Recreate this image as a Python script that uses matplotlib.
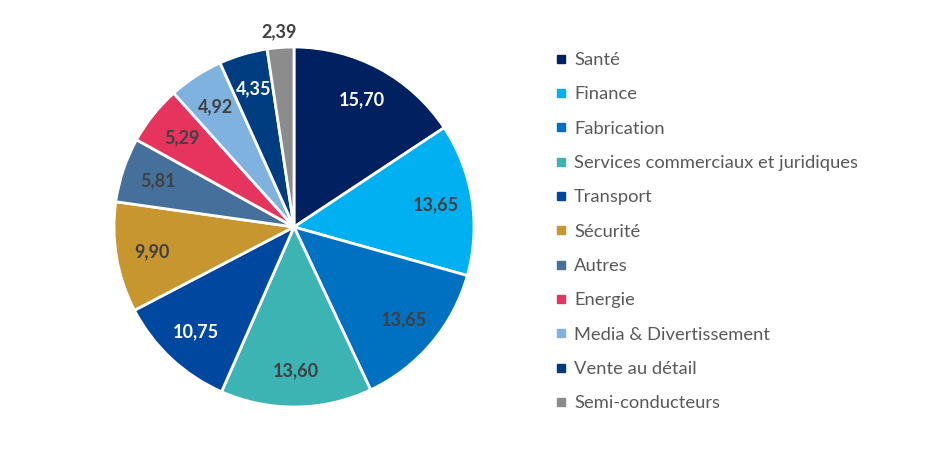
import numpy as np
import matplotlib.pyplot as plt
from matplotlib.lines import Line2D

sectors = ['Santé', 'Finance', 'Fabrication', 'Services commerciaux et juridiques',
           'Transport', 'Sécurité', 'Autres', 'Energie', 'Media & Divertissement',
           'Vente au détail', 'Semi-conducteurs']
values = [15.70, 13.65, 13.65, 13.60, 10.75, 9.90, 5.81, 5.29, 4.92, 4.35, 2.39]
colors = ['#002060', '#00B0F0', '#0070C0', '#3CB4B4', '#0047A0', '#C8962F',
          '#46709C', '#E5355F', '#80B2E0', '#003C80', '#8C8C8C']
label_colors = ['white', '#404040', '#404040', '#404040', 'white', '#404040',
                '#404040', '#404040', '#404040', 'white', '#404040']

plt.rcParams['font.family'] = ['Lato', 'DejaVu Sans']

fig = plt.figure(figsize=(9.26, 4.5), dpi=100)
cx, cy, r = 294, 227, 180
ax = fig.add_axes([(cx - r) / 926, (450 - cy - r) / 450, 2 * r / 926, 2 * r / 450])

wedges, _ = ax.pie(values, colors=colors, startangle=90, counterclock=False,
                   wedgeprops=dict(edgecolor='white', linewidth=2))
ax.set_xlim(-1, 1)
ax.set_ylim(-1, 1)
ax.set_aspect('equal')

# value labels
angle = 90.0
for v, w, lc in zip(values, wedges, label_colors):
    mid = np.deg2rad(angle - v / 100 * 360 / 2)
    angle -= v / 100 * 360
    dist = 1.09 if v < 3 else 0.8
    ax.text(dist * np.cos(mid), dist * np.sin(mid), f'{v:.2f}'.replace('.', ','),
            ha='center', va='center', fontsize=13, fontweight='bold', color=lc)

handles = [Line2D([], [], marker='s', linestyle='none', markersize=6,
                  markerfacecolor=c, markeredgecolor=c) for c in colors]
fig.legend(handles, sectors, loc='upper left', bbox_to_anchor=(555 / 926, 1 - 52 / 450),
           frameon=False, fontsize=13.2, labelcolor='#595959', handlelength=0.6,
           handletextpad=0.45, labelspacing=1.0, borderaxespad=0, borderpad=0)

fig.savefig('out.png', dpi=100, facecolor='white')
